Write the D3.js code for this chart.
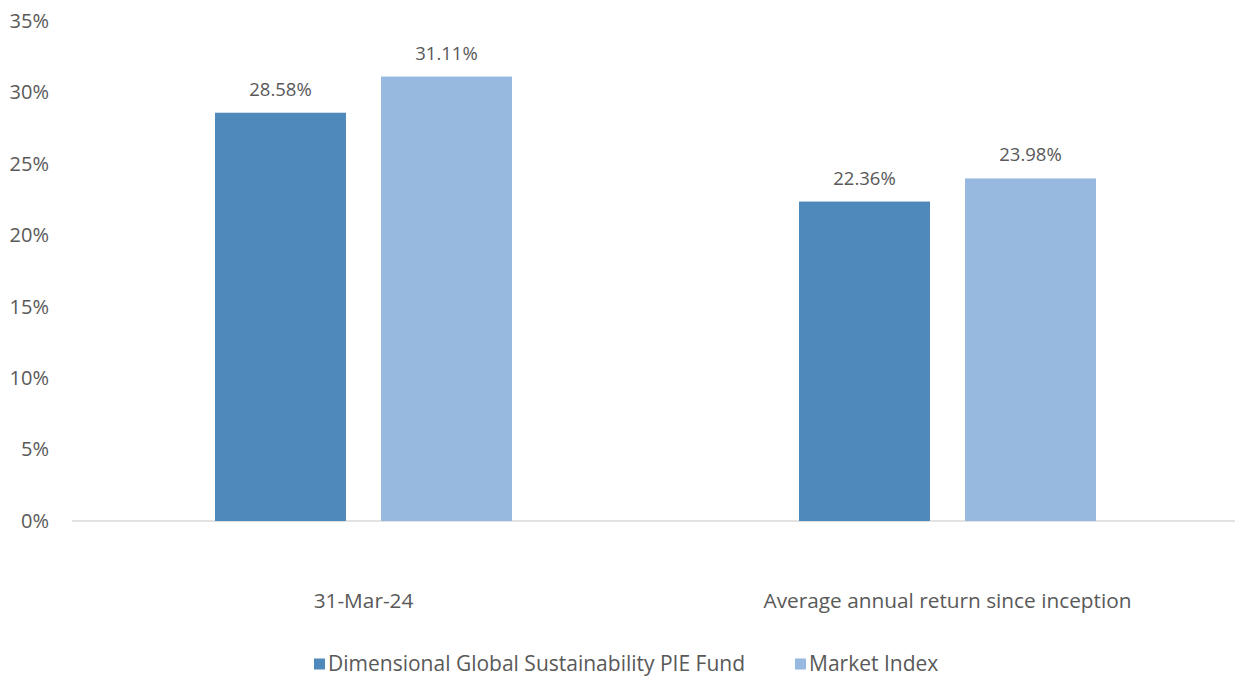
<!DOCTYPE html>
<html><head><meta charset="utf-8">
<script src="https://cdn.jsdelivr.net/npm/d3@7"></script>
<style>body{margin:0;background:#fff;} svg{display:block;} text{font-family:"Open Sans",sans-serif;fill:#595959;}</style>
</head><body><svg id="c" width="1235" height="676"></svg>
<script>
const categories = ["31-Mar-24", "Average annual return since inception"];
const series = ["Dimensional Global Sustainability PIE Fund", "Market Index"];
const fundValues = [28.58, 22.36];
const indexValues = [31.11, 23.98];
const yTicks = [0, 5, 10, 15, 20, 25, 30, 35];
const colors = ["#4F88BB", "#97B8DF"];

const svg = d3.select("#c");
const y = d3.scaleLinear().domain([0, 35]).range([521, 21]);
const x0 = d3.scaleBand().domain(categories).range([71.5, 1239.5]);
const x1 = d3.scaleBand().domain(series).range([0, 297]).paddingInner(0.211);
const groupOff = x0.bandwidth() / 2 - 148.5;

const valuesBySeries = [fundValues, indexValues];

// axis line
svg.append("line").attr("x1", 72).attr("x2", 1235).attr("y1", y(0)).attr("y2", y(0))
  .attr("stroke", "#d9d9d9").attr("stroke-width", 1.5);

// y tick labels
const yAxis = d3.axisLeft(y).tickValues(yTicks).tickFormat(d => d + "%").tickSize(0).tickPadding(0);
const ya = svg.append("g").attr("transform", "translate(49,0)").call(yAxis);
ya.select(".domain").remove();
ya.selectAll("text").attr("font-size", 20).attr("fill", "#595959").style("font-family", "'Open Sans',sans-serif");

// bars
categories.forEach((c, ci) => {
  series.forEach((s, si) => {
    const v = valuesBySeries[si][ci];
    const bx = x0(c) + groupOff + x1(s);
    svg.append("rect").attr("x", bx).attr("y", y(v)).attr("width", x1.bandwidth())
      .attr("height", y(0) - y(v)).attr("fill", colors[si]);
    svg.append("text").attr("x", bx + x1.bandwidth() / 2).attr("y", y(v) - 17)
      .attr("text-anchor", "middle").attr("font-size", 18.5).text(v.toFixed(2) + "%");
  });
});

// category labels
const xAxis = d3.axisBottom(x0).tickSize(0).tickPadding(0);
const xa = svg.append("g").attr("transform", "translate(0,601)").call(xAxis);
xa.select(".domain").remove();
xa.selectAll("text").attr("dy", "0.35em").attr("font-size", 20.8).attr("fill", "#595959").style("font-family", "'Open Sans',sans-serif");

// legend
const legendX = [314, 795];
series.forEach((s, i) => {
  const g = svg.append("g").attr("transform", `translate(${legendX[i]},664)`);
  g.append("rect").attr("x", 0).attr("y", -5.5).attr("width", 11).attr("height", 11).attr("fill", colors[i]);
  g.append("text").attr("x", 14).attr("y", 0).attr("dy", "0.35em").attr("font-size", 21).text(s);
});
</script></body></html>
